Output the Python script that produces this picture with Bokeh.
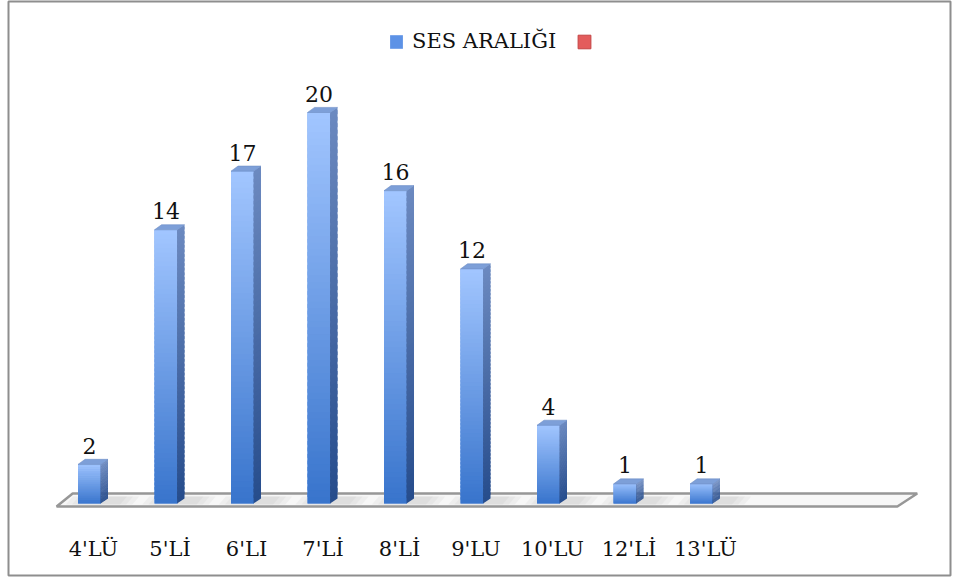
from bokeh.plotting import figure
from bokeh.models import ColumnDataSource, Range1d, Legend, LegendItem
from bokeh.core.properties import value
from bokeh.embed import file_html
from bokeh.resources import INLINE

# ---- data ----
categories = ["4'LÜ", "5'Lİ", "6'LI", "7'Lİ", "8'Lİ", "9'LU", "10'LU", "12'Lİ", "13'LÜ"]
values = [2, 14, 17, 20, 16, 12, 4, 1, 1]
series_name = "SES ARALIĞI"
second_series = [float("nan")] * len(categories)   # empty red series shown only in legend
n_slots = 11  # the floor of the 3D chart has room for 11 categories

FONT = "DejaVu Serif"

# ---- style / geometry (in axis units) ----
half_w = 0.15          # half width of bar front face
dx, dy = 0.092, 0.26   # 3D depth offset
N = 60                 # gradient slices


def lerp(c1, c2, t):
    return "#%02x%02x%02x" % tuple(int(round(a + (b - a) * t)) for a, b in zip(c1, c2))


front_bot, front_top = (56, 116, 204), (162, 198, 255)
side_bot, side_top = (38, 76, 140), (108, 138, 192)
top_col = "#7d9fd8"

p = figure(width=958, height=577, output_backend="svg", toolbar_location=None,
           x_axis_location=None, y_axis_location=None,
           x_range=Range1d(-1.0588, 11.2549), y_range=Range1d(-3.683, 25.678),
           min_border_left=8, min_border_right=8, min_border_top=1, min_border_bottom=2,
           background_fill_color="white", border_fill_color="white")
p.grid.visible = False
p.outline_line_color = "#8e8e8e"
p.outline_line_width = 2

xs_idx = list(range(len(values)))

# ---- floor ----
fl_front, fl_back = -0.15, 0.51
p.patch(x=[-0.43, n_slots - 0.44, n_slots - 0.18, -0.22],
        y=[fl_front, fl_front, fl_back, fl_back],
        fill_color="#f7f7f7", line_color="#979797", line_width=2.5)

# ---- soft shadows on the floor ----
for grow in (0.0, 0.08, 0.16):
    sh_xs, sh_ys = [], []
    for i in xs_idx:
        sh_xs.append([i - half_w - grow, i + half_w + 0.25 + grow, i + half_w + 0.34 + grow,
                      i - half_w + dx - grow])
        sh_ys.append([-0.05, -0.05, dy + 0.1, dy + 0.1])
    p.patches(xs=sh_xs, ys=sh_ys, fill_color="#808080", fill_alpha=0.07, line_color=None)

# ---- base bar renderer (data) ----
bar_src = ColumnDataSource(dict(x=xs_idx, v=values,
                                left=[i - half_w for i in xs_idx],
                                right=[i + half_w for i in xs_idx],
                                red=second_series))
r_bars = p.quad(source=bar_src, left="left", right="right", bottom=0, top="v",
                fill_color="#5d92e6", line_color=None)
r_red = p.quad(source=bar_src, left="left", right="right", bottom=0, top="red",
               fill_color="#e35c5c", line_color="#c44444")

# ---- gradient overlay (front face quads + side face patches) ----
fq = dict(left=[], right=[], bottom=[], top=[], color=[])
sp = dict(xs=[], ys=[], color=[])
tp = dict(xs=[], ys=[])
for i, v in zip(xs_idx, values):
    step = v / N
    for k in range(N):
        b = v * k / N
        t = min(v, b + step * 1.6)
        tt = (k + 0.5) / N
        fq["left"].append(i - half_w)
        fq["right"].append(i + half_w)
        fq["bottom"].append(b)
        fq["top"].append(t)
        fq["color"].append(lerp(front_bot, front_top, tt))
        sp["xs"].append([i + half_w - 0.005, i + half_w + dx, i + half_w + dx, i + half_w - 0.005])
        sp["ys"].append([b, b + dy, t + dy, t])
        sp["color"].append(lerp(side_bot, side_top, tt))
    tp["xs"].append([i - half_w, i + half_w, i + half_w + dx, i - half_w + dx])
    tp["ys"].append([v, v, v + dy, v + dy])

p.quad(source=ColumnDataSource(fq), left="left", right="right", bottom="bottom", top="top",
       fill_color="color", line_color=None)
p.patches(source=ColumnDataSource(sp), xs="xs", ys="ys", fill_color="color", line_color=None)
p.patches(source=ColumnDataSource(tp), xs="xs", ys="ys",
          fill_color=top_col, line_color="#6f8fc6", line_width=0.6)

# ---- value labels ----
lab_src = ColumnDataSource(dict(x=xs_idx, y=values, txt=[str(v) for v in values]))
p.text(source=lab_src, x="x", y="y", text="txt", text_align="center",
       text_baseline="alphabetic", y_offset=-18.5, text_font=value(FONT),
       text_font_size="22px", text_color="#111111")

# ---- category labels ----
cat_src = ColumnDataSource(dict(x=list(range(len(categories))), y=[0] * len(categories),
                                txt=categories))
p.text(source=cat_src, x="x", y="y", text="txt", text_align="center",
       text_baseline="alphabetic", x_offset=4, y_offset=46, text_font=value(FONT),
       text_font_size="21px", text_color="#111111")

# ---- legend ----
legend = Legend(items=[LegendItem(label=series_name, renderers=[r_bars]),
                       LegendItem(label=value(""), renderers=[r_red])],
                orientation="horizontal", location=(380, 522),
                glyph_width=16, glyph_height=17, label_standoff=8, spacing=20,
                label_text_font=FONT, label_text_font_size="21px", label_text_color="#111111",
                padding=0, margin=0, border_line_alpha=0, background_fill_alpha=0)
p.add_layout(legend, "center")

open("out.html", "w").write(file_html(p, INLINE))
